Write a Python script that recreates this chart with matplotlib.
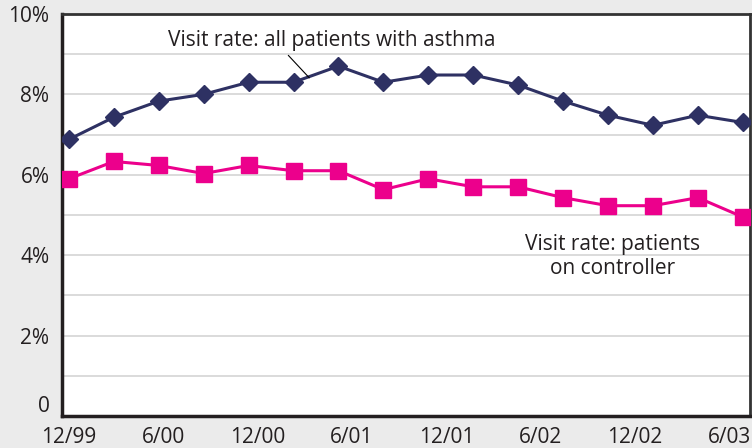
import numpy as np
import matplotlib
matplotlib.use('Agg')
from matplotlib import pyplot as plt
from matplotlib.transforms import ScaledTranslation

plt.rcParams['font.family'] = ['Open Sans', 'DejaVu Sans']

# quarterly points, 12/99 .. 9/03
all_patients = [6.88, 7.43, 7.83, 8.0, 8.3, 8.3, 8.7, 8.3, 8.48, 8.48,
                8.23, 7.83, 7.48, 7.23, 7.48, 7.3]
on_controller = [5.9, 6.33, 6.23, 6.03, 6.23, 6.1, 6.1, 5.63, 5.9, 5.7,
                 5.7, 5.43, 5.23, 5.23, 5.43, 4.95]
x_labels = ['12/99', '6/00', '12/00', '6/01', '12/01', '6/02', '12/02', '6/03']
y_ticks = [0, 2, 4, 6, 8, 10]
y_labels = ['0', '2%', '4%', '6%', '8%', '10%']

navy = '#2e3163'
pink = '#ec008c'

fig = plt.figure(figsize=(7.52, 4.48), dpi=100, facecolor='#ebebeb')
ax = fig.add_axes([0.0824, 0.0714, 0.9146, 0.8976])
ax.set_facecolor('white')

x = np.arange(len(all_patients))
ax.plot(x, all_patients, color=navy, lw=2.2, marker='D', ms=9.5, zorder=3)
ax.plot(x, on_controller, color=pink, lw=2.2, marker='s', ms=11.5, zorder=3)

ax.set_xlim(-0.156, 15.156)
ax.set_ylim(0, 10)
ax.set_yticks(y_ticks)
ax.set_yticklabels(y_labels, fontsize=15, color='#231f20')
ax.set_yticks(np.arange(1, 10, 2), minor=True)
ax.yaxis.grid(True, which='both', color='#d4d4d4', lw=1.2)
ax.set_axisbelow(True)
ax.set_xticks(np.arange(len(x_labels)) * 2.1)
ax.set_xticklabels(x_labels, fontsize=15, color='#231f20')
ax.tick_params(axis='both', which='both', length=0)
ax.tick_params(axis='x', pad=8)
ax.tick_params(axis='y', pad=9)

# lift the "0" label off the bottom axis like the original
zero = ax.get_yticklabels()[0]
zero.set_transform(zero.get_transform() + ScaledTranslation(0, 9 / 72, fig.dpi_scale_trans))

for side in ['left', 'bottom']:
    ax.spines[side].set_linewidth(2.5)
    ax.spines[side].set_color('#231f20')
for side in ['top', 'right']:
    ax.spines[side].set_linewidth(2)
    ax.spines[side].set_color('#333333')

ax.annotate('Visit rate: all patients with asthma', xy=(5.35, 8.41),
            xytext=(5.84, 9.35), ha='center', va='center', fontsize=15,
            color='#231f20',
            arrowprops=dict(arrowstyle='-', color='black', lw=0.8,
                            relpos=(0.355, 0.0), shrinkA=2, shrinkB=0))
ax.text(12.1, 3.96, 'Visit rate: patients\non controller', ha='center',
        va='center', fontsize=15, color='#231f20', linespacing=1.2)

fig.savefig('out.png', dpi=100, facecolor=fig.get_facecolor())
